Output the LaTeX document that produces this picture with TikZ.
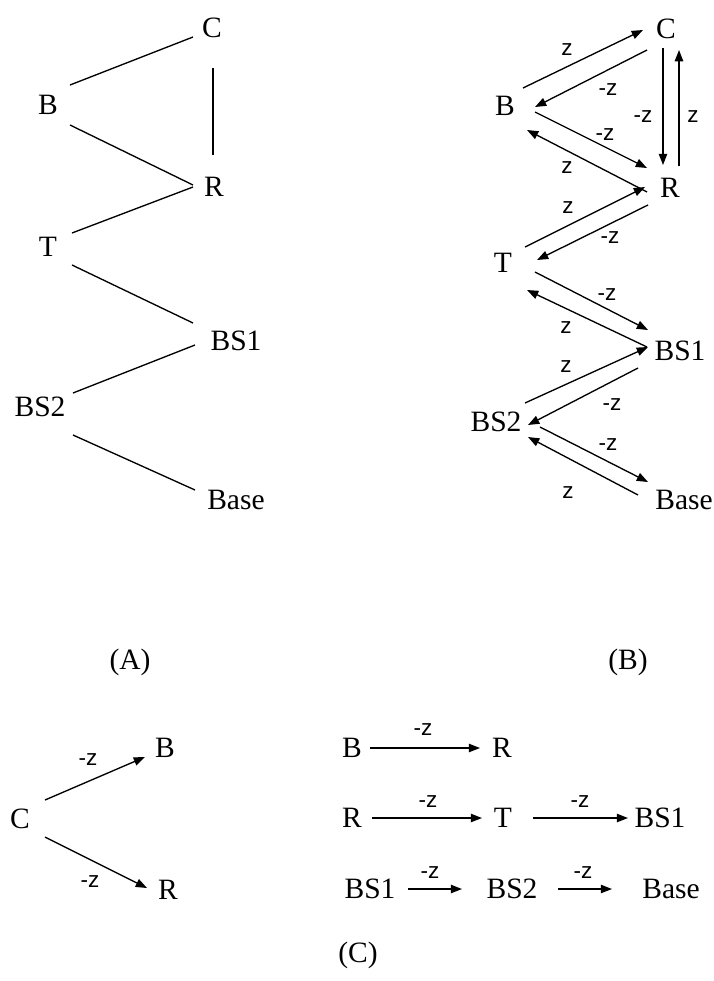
\documentclass[tikz,border=0pt]{standalone}
\usepackage{fontspec}
\setmainfont{Liberation Serif}
\setsansfont{Liberation Sans}
\usetikzlibrary{arrows.meta}

\begin{document}
\begin{tikzpicture}[x=0.025cm, y=-0.025cm,
  site/.style={inner sep=0pt, font=\fontsize{21}{23}\selectfont},
  zl/.style={inner sep=0pt, font=\sffamily\fontsize{16}{18}\selectfont},
  ln/.style={line width=0.95pt},
  arr/.style={line width=0.95pt, -{Triangle[length=8pt,width=6pt]}},
  panel/.style={font=\fontsize{21}{23}\selectfont}
]
  \useasboundingbox (0,0) rectangle (714,981);

  % (A) the stages
  \node[site] (aC) at (212,28) {C};
  \node[site] (aB) at (48,105) {B};
  \node[site] (aR) at (214,187) {R};
  \node[site] (aT) at (48,247) {T};
  \node[site] (aBS1) at (236,341) {BS1};
  \node[site] (aBS2) at (40,407) {BS2};
  \node[site] (aBase) at (236,500) {Base};
  \draw[ln] ([shift={(22,-20)}]aB.center) -- ([shift={(-19,9)}]aC.center);
  \draw[ln] ([shift={(1,40)}]aC.center) -- ([shift={(-1,-32)}]aR.center);
  \draw[ln] ([shift={(22,20)}]aB.center) -- ([shift={(-21,-2)}]aR.center);
  \draw[ln] ([shift={(24,-14)}]aT.center) -- ([shift={(-21,0)}]aR.center);
  \draw[ln] ([shift={(24,18)}]aT.center) -- ([shift={(-43,-18)}]aBS1.center);
  \draw[ln] ([shift={(33,-14)}]aBS2.center) -- ([shift={(-41,4)}]aBS1.center);
  \draw[ln] ([shift={(33,28)}]aBS2.center) -- ([shift={(-41,-10)}]aBase.center);
  \node[panel] (capA) at (130,662) {(A)};

  % (B) moves up and down
  \node[site] (bC) at (666,29) {C};
  \node[site] (bB) at (505,106) {B};
  \node[site] (bR) at (670,188) {R};
  \node[site] (bT) at (503,263) {T};
  \node[site] (bBS1) at (680,351) {BS1};
  \node[site] (bBS2) at (496,422) {BS2};
  \node[site] (bBase) at (684,500) {Base};
  \draw[arr] ([shift={(18,-18)}]bB.center) -- ([shift={(-23,1)}]bC.center) node[zl] at (567,50) {z};
  \draw[arr] ([shift={(-19,21)}]bC.center) -- ([shift={(30,1)}]bB.center) node[zl] at (608,90) {-z};
  \draw[arr] ([shift={(-3,19)}]bC.center) -- ([shift={(-7,-23)}]bR.center) node[zl] at (643,117) {-z};
  \draw[arr] ([shift={(9,-22)}]bR.center) -- ([shift={(13,21)}]bC.center) node[zl] at (693,117) {z};
  \draw[arr] ([shift={(30,6)}]bB.center) -- ([shift={(-23,-20)}]bR.center) node[zl] at (605,135) {-z};
  \draw[arr] ([shift={(-23,4)}]bR.center) -- ([shift={(22,24)}]bB.center) node[zl] at (567,168) {z};
  \draw[arr] ([shift={(22,-16)}]bT.center) -- ([shift={(-25,-1)}]bR.center) node[zl] at (568,208) {z};
  \draw[arr] ([shift={(-22,17)}]bR.center) -- ([shift={(34,-3)}]bT.center) node[zl] at (610,238) {-z};
  \draw[arr] ([shift={(32,9)}]bT.center) -- ([shift={(-32,-21)}]bBS1.center) node[zl] at (607,295) {-z};
  \draw[arr] ([shift={(-33,-4)}]bBS1.center) -- ([shift={(24,27)}]bT.center) node[zl] at (566,328) {z};
  \draw[arr] ([shift={(29,-19)}]bBS2.center) -- ([shift={(-32,-4)}]bBS1.center) node[zl] at (566,367) {z};
  \draw[arr] ([shift={(-42,17)}]bBS1.center) -- ([shift={(32,3)}]bBS2.center) node[zl] at (612,405) {-z};
  \draw[arr] ([shift={(44,5)}]bBS2.center) -- ([shift={(-36,-18)}]bBase.center) node[zl] at (608,445) {-z};
  \draw[arr] ([shift={(-46,-5)}]bBase.center) -- ([shift={(32,15)}]bBS2.center) node[zl] at (568,493) {z};
  \node[panel] (capB) at (628,662) {(B)};

  % (C) the -z moves only
  \node[site] (cC) at (20,819) {C};
  \node[site] (cB) at (165,748) {B};
  \node[site] (cR) at (168,890) {R};
  \draw[arr] ([shift={(25,-19)}]cC.center) -- ([shift={(-20,9)}]cB.center) node[zl] at (88,760) {-z};
  \draw[arr] ([shift={(25,18)}]cC.center) -- ([shift={(-21,-2)}]cR.center) node[zl] at (90,882) {-z};

  \node[site] (r1B) at (352,748) {B};
  \node[site] (r1R) at (502,748) {R};
  \draw[arr] ([shift={(18,0)}]r1B.center) -- ([shift={(-22,0)}]r1R.center) node[zl] at (423,730) {-z};

  \node[site] (r2R) at (352,818) {R};
  \node[site] (r2T) at (503,818) {T};
  \node[site] (r2BS1) at (660,818) {BS1};
  \draw[arr] ([shift={(20,0)}]r2R.center) -- ([shift={(-21,0)}]r2T.center) node[zl] at (428,802) {-z};
  \draw[arr] ([shift={(30,0)}]r2T.center) -- ([shift={(-32,0)}]r2BS1.center) node[zl] at (580,802) {-z};

  \node[site] (r3BS1) at (370,889) {BS1};
  \node[site] (r3BS2) at (512,889) {BS2};
  \node[site] (r3Base) at (671,889) {Base};
  \draw[arr] ([shift={(38,0)}]r3BS1.center) -- ([shift={(-50,0)}]r3BS2.center) node[zl] at (430,873) {-z};
  \draw[arr] ([shift={(46,0)}]r3BS2.center) -- ([shift={(-59,0)}]r3Base.center) node[zl] at (583,873) {-z};
  \node[panel] (capC) at (358,955) {(C)};
\end{tikzpicture}
\end{document}
